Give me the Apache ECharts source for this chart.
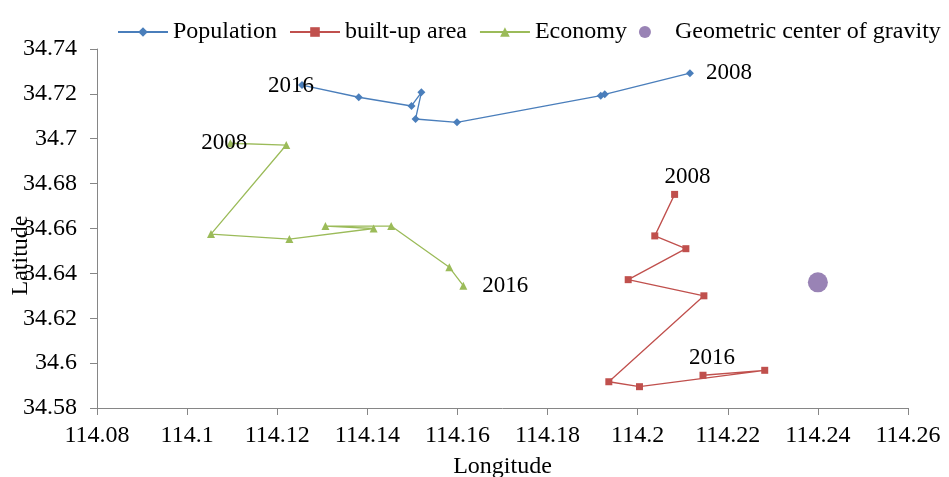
<!DOCTYPE html>
<html>
<head>
<meta charset="utf-8">
<script src="https://cdn.jsdelivr.net/npm/echarts@6/dist/echarts.min.js"></script>
<style>html,body{margin:0;padding:0;background:#fff}#c{width:949px;height:477px}</style>
</head>
<body>
<div id="c"></div>
<script>
// Years 2008 -> 2016
const years = ['2008','2009','2010','2011','2012','2013','2014','2015','2016'];
const popLon = [114.2116, 114.1927, 114.1918, 114.1599, 114.1507, 114.1520, 114.1498, 114.1381, 114.1255];
const popLat = [34.7292, 34.7198, 34.7192, 34.7073, 34.7088, 34.7207, 34.7146, 34.7185, 34.7239];
const builtLon = [114.2082, 114.2038, 114.2107, 114.1979, 114.2147, 114.1936, 114.2004, 114.2282, 114.2145];
const builtLat = [34.6752, 34.6567, 34.6510, 34.6372, 34.6300, 34.5917, 34.5895, 34.5968, 34.5946];
const econLon = [114.1096, 114.1220, 114.1053, 114.1227, 114.1414, 114.1307, 114.1453, 114.1582, 114.1613];
const econLat = [34.6980, 34.6972, 34.6575, 34.6553, 34.6600, 34.6611, 34.6611, 34.6427, 34.6345];
const centerLon = [114.24];
const centerLat = [34.636];
const xTicks = ['114.08','114.1','114.12','114.14','114.16','114.18','114.2','114.22','114.24','114.26'];
const yTicks = ['34.58','34.6','34.62','34.64','34.66','34.68','34.7','34.72','34.74'];

const FONT = "'Liberation Serif', 'Times New Roman', serif";

function build(lons, lats, firstLabel, lastLabel) {
  return lons.map((x, i) => {
    const item = { value: [x, lats[i]] };
    if (i === 0) item.label = Object.assign({ show: true, formatter: years[0] }, firstLabel);
    if (i === lons.length - 1) item.label = Object.assign({ show: true, formatter: years[years.length - 1] }, lastLabel);
    return item;
  });
}

const labelStyle = { color: '#000', fontFamily: FONT, fontSize: 23 };

const chart = echarts.init(document.getElementById('c'), null, { renderer: 'canvas' });
chart.setOption({
  animation: false,
  textStyle: { fontFamily: FONT },
  legend: {
    left: 112, top: 15,
    itemWidth: 50, itemHeight: 12, itemGap: 12,
    textStyle: { fontFamily: FONT, fontSize: 24, color: '#000' },
    data: ['Population', 'built-up area', 'Economy', 'Geometric center of gravity']
  },
  grid: { left: 97, right: 41, top: 49, bottom: 69, containLabel: false, outerBoundsMode: 'none' },
  xAxis: {
    type: 'value', min: +xTicks[0], max: +xTicks[xTicks.length - 1], interval: 0.02,
    name: 'Longitude', nameLocation: 'middle', nameGap: 47, nameMoveOverlap: false,
    nameTextStyle: { fontFamily: FONT, fontSize: 24, color: '#000' },
    axisLine: { show: true, lineStyle: { color: '#868686', width: 1 } },
    axisTick: { show: true, length: 7, lineStyle: { color: '#868686' } },
    axisLabel: { margin: 16, fontFamily: FONT, fontSize: 24, color: '#000',
      formatter: v => xTicks.find(t => Math.abs(+t - v) < 1e-6) || '' },
    splitLine: { show: false }
  },
  yAxis: {
    type: 'value', min: +yTicks[0], max: +yTicks[yTicks.length - 1], interval: 0.02,
    name: 'Latitude', nameLocation: 'middle', nameGap: 64, nameMoveOverlap: false,
    nameTextStyle: { fontFamily: FONT, fontSize: 24, color: '#000', padding: [0, 54, 0, 0] },
    axisLine: { show: true, lineStyle: { color: '#868686', width: 1 } },
    axisTick: { show: true, length: 7, lineStyle: { color: '#868686' } },
    axisLabel: { margin: 20, fontFamily: FONT, fontSize: 24, color: '#000',
      formatter: v => yTicks.find(t => Math.abs(+t - v) < 1e-6) || '' },
    splitLine: { show: false }
  },
  series: [
    {
      name: 'Population', type: 'line', smooth: false,
      symbol: 'diamond', symbolSize: 8,
      lineStyle: { color: '#4A7EBB', width: 1.3 },
      itemStyle: { color: '#4A7EBB' },
      data: build(popLon, popLat,
        Object.assign({ position: 'right', distance: 12 }, labelStyle),
        Object.assign({ position: 'left', distance: 0, offset: [16, 1] }, labelStyle))
    },
    {
      name: 'built-up area', type: 'line', smooth: false,
      symbol: 'rect', symbolSize: 7,
      lineStyle: { color: '#C0504D', width: 1.3 },
      itemStyle: { color: '#C0504D' },
      data: build(builtLon, builtLat,
        Object.assign({ position: 'top', distance: 2, offset: [13, 0] }, labelStyle),
        Object.assign({ position: 'top', distance: 2, offset: [9, 0] }, labelStyle))
    },
    {
      name: 'Economy', type: 'line', smooth: false,
      symbol: 'triangle', symbolSize: 8,
      lineStyle: { color: '#9BBB59', width: 1.3 },
      itemStyle: { color: '#9BBB59' },
      data: build(econLon, econLat,
        Object.assign({ position: 'left', distance: 0, offset: [21, 0] }, labelStyle),
        Object.assign({ position: 'right', distance: 15 }, labelStyle))
    },
    {
      name: 'Geometric center of gravity', type: 'scatter',
      symbol: 'circle', symbolSize: 20,
      itemStyle: { color: '#8064A2' },
      data: centerLon.map((x, i) => [x, centerLat[i]])
    }
  ]
});
</script>
</body>
</html>
